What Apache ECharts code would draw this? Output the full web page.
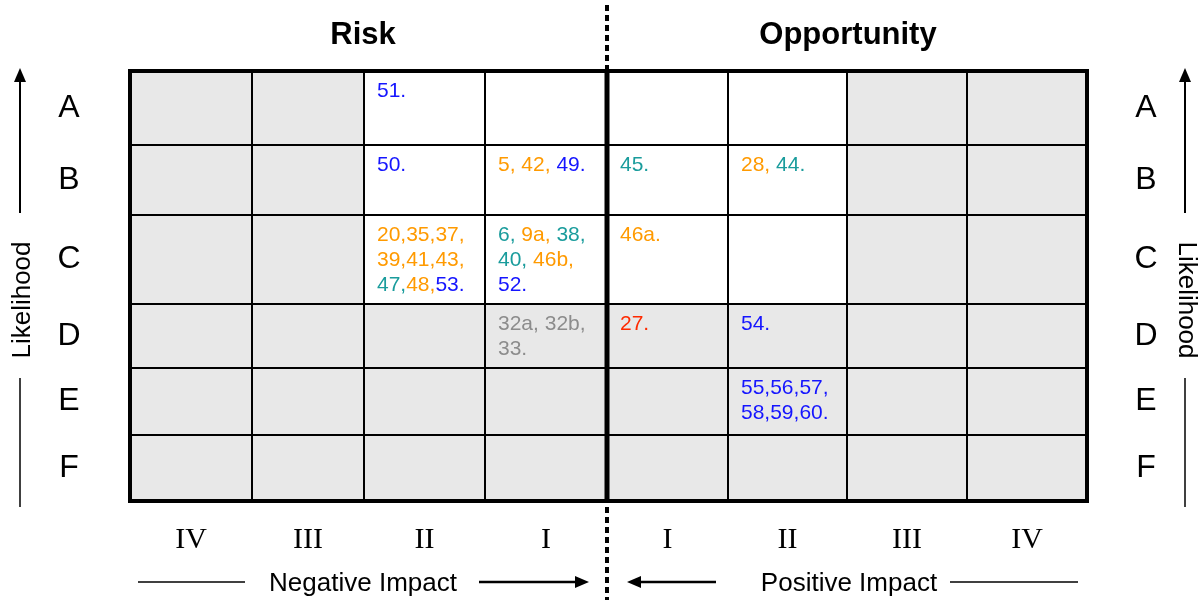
<!DOCTYPE html>
<html>
<head>
<meta charset="utf-8">
<title>Risk / Opportunity matrix</title>
<script src="https://cdn.jsdelivr.net/npm/echarts/dist/echarts.min.js"></script>
<style>
  html, body { margin: 0; padding: 0; background: #fff; }
  #matrix-chart { width: 1202px; height: 600px; }
</style>
</head>
<body>
<div id="matrix-chart"></div>
<script>
// 行：可能性
const likelihood = ['A', 'B', 'C', 'D', 'E', 'F']
// 列：负面影响 IV..I，正面影响 I..IV
const impactCols = ['IV', 'III', 'II', 'I', 'I', 'II', 'III', 'IV']
// 1 = 白色（关注区），0 = 灰色
const zone = [
  [0, 0, 1, 1, 1, 1, 0, 0],
  [0, 0, 1, 1, 1, 1, 0, 0],
  [0, 0, 1, 1, 1, 1, 0, 0],
  [0, 0, 0, 0, 0, 0, 0, 0],
  [0, 0, 0, 0, 0, 0, 0, 0],
  [0, 0, 0, 0, 0, 0, 0, 0]
]
// 单元格编号 [列, 行, 富文本]
const cellNotes = [
  [2, 0, '{b|51.}'],
  [2, 1, '{b|50.}'],
  [3, 1, '{o|5, 42, }{b|49.}'],
  [4, 1, '{t|45.}'],
  [5, 1, '{o|28, }{t|44.}'],
  [2, 2, '{o|20,35,37,}\n{o|39,41,43,}\n{t|47,}{o|48,}{b|53.}'],
  [3, 2, '{t|6, }{o|9a, }{t|38,}\n{t|40, }{o|46b,}\n{b|52.}'],
  [4, 2, '{o|46a.}'],
  [3, 3, '{g|32a, 32b,}\n{g|33.}'],
  [4, 3, '{r|27.}'],
  [5, 3, '{b|54.}'],
  [5, 4, '{b|55,56,57,}\n{b|58,59,60.}']
]

// 布局：列宽、行高（相对单位）
const colWidths = [122, 112, 121, 122, 121, 119, 120, 120]
const rowHeights = [74, 70, 89, 64, 67, 66]

const colEdges = [0]
colWidths.forEach(w => colEdges.push(colEdges[colEdges.length - 1] + w))
const rowEdges = [0]
rowHeights.forEach(h => rowEdges.push(rowEdges[rowEdges.length - 1] + h))

const FONT = '"Liberation Sans", Arial, sans-serif'
const noteRich = {
  b: { fill: '#1515ff' },
  o: { fill: '#ff9a00' },
  t: { fill: '#1a9c9c' },
  g: { fill: '#8c8c8c' },
  r: { fill: '#ff2a00' }
}
Object.keys(noteRich).forEach(k => {
  noteRich[k].fontSize = 21
  noteRich[k].fontFamily = FONT
  noteRich[k].lineHeight = 25
})

const cells = []
zone.forEach((row, r) => row.forEach((z, c) => cells.push([c, r, z])))

const myChart = echarts.init(document.getElementById('matrix-chart'))

const option = {
  animation: false,
  grid: { left: 130, right: 115, top: 71, bottom: 99 },
  xAxis: { type: 'value', min: 0, max: colEdges[colEdges.length - 1], show: false },
  yAxis: { type: 'value', min: 0, max: rowEdges[rowEdges.length - 1], inverse: true, show: false },
  graphic: [
    // 标题
    { type: 'text', x: 363, y: 35, style: { text: 'Risk', font: 'bold 31px ' + FONT, fill: '#000', align: 'center', verticalAlign: 'middle' } },
    { type: 'text', x: 848, y: 35, style: { text: 'Opportunity', font: 'bold 31px ' + FONT, fill: '#000', align: 'center', verticalAlign: 'middle' } },
    // 左侧 Likelihood
    { type: 'line', shape: { x1: 20, y1: 213, x2: 20, y2: 80 }, style: { stroke: '#000', lineWidth: 2 } },
    { type: 'polygon', shape: { points: [[14, 82], [26, 82], [20, 68]] }, style: { fill: '#000' } },
    { type: 'text', x: 23, y: 300, rotation: Math.PI / 2, style: { text: 'Likelihood', font: '26px ' + FONT, fill: '#000', align: 'center', verticalAlign: 'middle' } },
    { type: 'line', shape: { x1: 20, y1: 378, x2: 20, y2: 507 }, style: { stroke: '#000', lineWidth: 1.5 } },
    // 右侧 Likelihood
    { type: 'line', shape: { x1: 1185, y1: 213, x2: 1185, y2: 80 }, style: { stroke: '#000', lineWidth: 2 } },
    { type: 'polygon', shape: { points: [[1179, 82], [1191, 82], [1185, 68]] }, style: { fill: '#000' } },
    { type: 'text', x: 1186, y: 300, rotation: -Math.PI / 2, style: { text: 'Likelihood', font: '26px ' + FONT, fill: '#000', align: 'center', verticalAlign: 'middle' } },
    { type: 'line', shape: { x1: 1185, y1: 378, x2: 1185, y2: 507 }, style: { stroke: '#000', lineWidth: 1.5 } },
    // 底部 Negative / Positive Impact
    { type: 'line', shape: { x1: 138, y1: 582, x2: 245, y2: 582 }, style: { stroke: '#000', lineWidth: 1.5 } },
    { type: 'text', x: 363, y: 584, style: { text: 'Negative Impact', font: '26px ' + FONT, fill: '#000', align: 'center', verticalAlign: 'middle' } },
    { type: 'line', shape: { x1: 479, y1: 582, x2: 578, y2: 582 }, style: { stroke: '#000', lineWidth: 2.5 } },
    { type: 'polygon', shape: { points: [[575, 576], [575, 588], [589, 582]] }, style: { fill: '#000' } },
    { type: 'polygon', shape: { points: [[627, 582], [641, 576], [641, 588]] }, style: { fill: '#000' } },
    { type: 'line', shape: { x1: 638, y1: 582, x2: 716, y2: 582 }, style: { stroke: '#000', lineWidth: 2.5 } },
    { type: 'text', x: 849, y: 584, style: { text: 'Positive Impact', font: '26px ' + FONT, fill: '#000', align: 'center', verticalAlign: 'middle' } },
    { type: 'line', shape: { x1: 950, y1: 582, x2: 1078, y2: 582 }, style: { stroke: '#000', lineWidth: 1.5 } }
  ],
  series: [
    {
      // 单元格
      type: 'custom',
      coordinateSystem: 'cartesian2d',
      data: cells,
      z: 1,
      renderItem: (params, api) => {
        const c = api.value(0)
        const r = api.value(1)
        const p0 = api.coord([colEdges[c], rowEdges[r]])
        const p1 = api.coord([colEdges[c + 1], rowEdges[r + 1]])
        return {
          type: 'rect',
          shape: { x: p0[0], y: p0[1], width: p1[0] - p0[0], height: p1[1] - p0[1] },
          style: { fill: api.value(2) ? '#ffffff' : '#e8e8e8', stroke: '#000', lineWidth: 2 }
        }
      }
    },
    {
      // 编号文字
      type: 'custom',
      coordinateSystem: 'cartesian2d',
      data: cellNotes,
      z: 3,
      renderItem: (params, api) => {
        const c = api.value(0)
        const r = api.value(1)
        const p = api.coord([colEdges[c], rowEdges[r]])
        return {
          type: 'text',
          x: p[0] + 13,
          y: p[1] + 8,
          style: {
            text: cellNotes[params.dataIndex][2],
            rich: noteRich,
            font: '21px ' + FONT,
            align: 'left',
            verticalAlign: 'top'
          }
        }
      }
    },
    {
      // 外框 + 中线 + 虚线
      type: 'custom',
      coordinateSystem: 'cartesian2d',
      data: [[0]],
      z: 4,
      renderItem: (params, api) => {
        const tl = api.coord([0, 0])
        const br = api.coord([colEdges[colEdges.length - 1], rowEdges[rowEdges.length - 1]])
        const midX = api.coord([colEdges[4], 0])[0]
        return {
          type: 'group',
          children: [
            { type: 'rect', shape: { x: tl[0], y: tl[1], width: br[0] - tl[0], height: br[1] - tl[1] }, style: { fill: 'none', stroke: '#000', lineWidth: 4 } },
            { type: 'line', shape: { x1: midX, y1: tl[1], x2: midX, y2: br[1] }, style: { stroke: '#000', lineWidth: 5 } },
            { type: 'line', shape: { x1: midX, y1: 5, x2: midX, y2: tl[1] - 2 }, style: { stroke: '#000', lineWidth: 4, lineDash: [6, 4] } },
            { type: 'line', shape: { x1: midX, y1: br[1] + 6, x2: midX, y2: 600 }, style: { stroke: '#000', lineWidth: 4, lineDash: [6, 4] } }
          ]
        }
      }
    },
    {
      // 行标签 A–F（左右两侧）
      type: 'custom',
      coordinateSystem: 'cartesian2d',
      data: likelihood.map((l, i) => [i]),
      z: 3,
      renderItem: (params, api) => {
        const r = api.value(0)
        const y = api.coord([0, (rowEdges[r] + rowEdges[r + 1]) / 2])[1]
        const cs = params.coordSys
        const st = { text: likelihood[r], font: '32px ' + FONT, fill: '#000', align: 'center', verticalAlign: 'middle' }
        return {
          type: 'group',
          children: [
            { type: 'text', x: cs.x - 61, y: y, style: st },
            { type: 'text', x: cs.x + cs.width + 59, y: y, style: Object.assign({}, st) }
          ]
        }
      }
    },
    {
      // 列标签 罗马数字
      type: 'custom',
      coordinateSystem: 'cartesian2d',
      data: impactCols.map((l, i) => [i]),
      z: 3,
      renderItem: (params, api) => {
        const c = api.value(0)
        const x = api.coord([(colEdges[c] + colEdges[c + 1]) / 2, 0])[0]
        const cs = params.coordSys
        return {
          type: 'text',
          x: x,
          y: cs.y + cs.height + 39,
          style: { text: impactCols[c], font: '30px "Liberation Serif", "Times New Roman", serif', fill: '#000', align: 'center', verticalAlign: 'middle' }
        }
      }
    }
  ]
}
myChart.setOption(option)
</script>
</body>
</html>
